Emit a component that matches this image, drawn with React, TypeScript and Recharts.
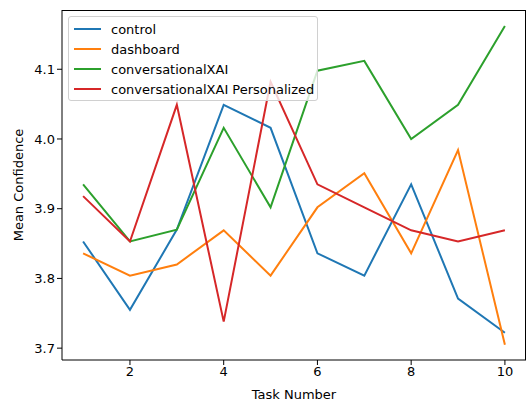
import React from 'react';
import { LineChart, Line, XAxis, YAxis } from 'recharts';

const tasks = [1, 2, 3, 4, 5, 6, 7, 8, 9, 10];
const control = [3.853, 3.755, 3.870, 4.049, 4.016, 3.836, 3.804, 3.935, 3.771, 3.722];
const dashboard = [3.836, 3.804, 3.820, 3.869, 3.804, 3.902, 3.951, 3.836, 3.984, 3.705];
const conversationalXAI = [3.935, 3.853, 3.870, 4.016, 3.902, 4.098, 4.112, 4.000, 4.049, 4.162];
const personalized = [3.918, 3.853, 4.049, 3.738, 4.082, 3.935, 3.902, 3.869, 3.853, 3.869];
const xTicks = [2, 4, 6, 8, 10];
const yTicks = [3.7, 3.8, 3.9, 4.0, 4.1];

const seriesMeta = [
  { key: 'control', name: 'control', color: '#1f77b4' },
  { key: 'dashboard', name: 'dashboard', color: '#ff7f0e' },
  { key: 'conversationalXAI', name: 'conversationalXAI', color: '#2ca02c' },
  { key: 'personalized', name: 'conversationalXAI Personalized', color: '#d62728' },
];

const data = tasks.map((t, i) => ({
  task: t,
  control: control[i],
  dashboard: dashboard[i],
  conversationalXAI: conversationalXAI[i],
  personalized: personalized[i],
}));

const FONT = 'DejaVu Sans';
const FS = 13;

const LegendBox = () => (
  <div
    style={{
      position: 'absolute',
      left: 68,
      top: 16,
      boxSizing: 'border-box',
      width: 250,
      height: 85,
      border: '1px solid #d0d0d0',
      borderRadius: 3,
      background: 'rgba(255,255,255,0.8)',
      padding: '2px 0 0 5px',
      fontFamily: FONT,
      fontSize: FS,
      color: '#000',
    }}
  >
    {seriesMeta.map((s) => (
      <div key={s.key} style={{ display: 'flex', alignItems: 'center', height: 20 }}>
        <div style={{ width: 27, height: 2, background: s.color, marginRight: 10 }} />
        <span>{s.name}</span>
      </div>
    ))}
  </div>
);

export default function App() {
  return (
    <div style={{ position: 'absolute', left: 0, top: 0, width: 529, height: 403, background: '#fff' }}>
      <LineChart
        width={529}
        height={403}
        data={data}
        margin={{ top: 10, right: 3, left: 0, bottom: 0 }}
      >
        <XAxis
          dataKey="task"
          type="number"
          domain={[0.55, 10.45]}
          ticks={xTicks}
          allowDataOverflow
          height={43}
          stroke="#000"
          tickLine={{ stroke: '#000' }}
          tickSize={5}
          tick={{ fill: '#000', fontFamily: FONT, fontSize: FS }}
          label={{ value: 'Task Number', position: 'insideBottom', offset: 4, fill: '#000', fontFamily: FONT, fontSize: FS }}
        />
        <YAxis
          type="number"
          domain={[3.683, 4.185]}
          ticks={yTicks}
          allowDataOverflow
          width={62}
          stroke="#000"
          tickLine={{ stroke: '#000' }}
          tickSize={5}
          tickFormatter={(v: number) => v.toFixed(1)}
          tick={{ fill: '#000', fontFamily: FONT, fontSize: FS }}
          label={{ value: 'Mean Confidence', angle: -90, position: 'insideLeft', offset: 18, style: { textAnchor: 'middle' }, fill: '#000', fontFamily: FONT, fontSize: FS }}
        />
        {seriesMeta.map((s) => (
          <Line
            key={s.key}
            dataKey={s.key}
            name={s.name}
            stroke={s.color}
            strokeWidth={2}
            dot={false}
            activeDot={false}
            type="linear"
            isAnimationActive={false}
          />
        ))}
      </LineChart>
      <div
        style={{
          position: 'absolute',
          left: 62,
          top: 10,
          width: 464,
          height: 350,
          boxSizing: 'border-box',
          borderTop: '1px solid #000',
          borderRight: '1px solid #000',
          pointerEvents: 'none',
        }}
      />
      <LegendBox />
    </div>
  );
}
